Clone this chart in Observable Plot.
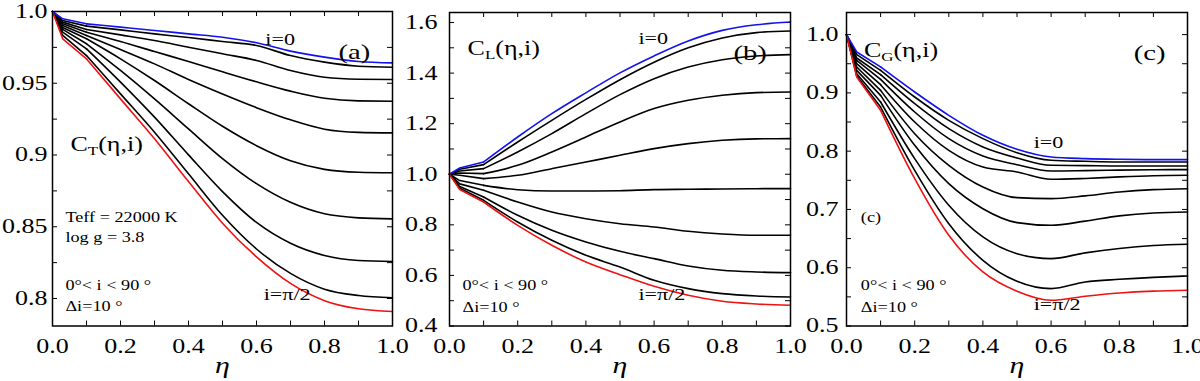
<!DOCTYPE html>
<html><head><meta charset="utf-8">
<script src="https://cdn.jsdelivr.net/npm/d3@7"></script>
<script src="https://cdn.jsdelivr.net/npm/@observablehq/plot@0.6"></script>
<style>
html,body{margin:0;padding:0;background:#fff;}
#fig{position:relative;width:1200px;height:381px;overflow:hidden;background:#fff;}
#fig svg{position:absolute;top:0;overflow:visible;background:transparent;}
#fig svg text{font-family:"Liberation Serif",serif;}
</style></head><body><div id="fig"></div>
<script>
// ---- data ----
const eta = [0, 0.03, 0.1, 0.2, 0.3, 0.4, 0.5, 0.6, 0.7, 0.8, 0.9, 1.0];
const inclinations = [0, 10, 20, 30, 40, 50, 60, 70, 80, 90];

const CT = [
  [1, 0.9949, 0.9914, 0.9891, 0.9868, 0.9844, 0.9821, 0.9782, 0.9724, 0.9682, 0.9652, 0.9642],
  [1, 0.9937, 0.9898, 0.9872, 0.9844, 0.9819, 0.9791, 0.9763, 0.9693, 0.9647, 0.9619, 0.9612],
  [1, 0.9926, 0.9875, 0.9837, 0.9798, 0.9751, 0.9705, 0.9659, 0.9589, 0.9542, 0.9528, 0.9526],
  [1, 0.9914, 0.9856, 0.9791, 0.9721, 0.9652, 0.9580, 0.9510, 0.9445, 0.9395, 0.9377, 0.9375],
  [1, 0.9902, 0.9833, 0.9735, 0.9635, 0.9526, 0.9425, 0.9330, 0.9245, 0.9180, 0.9158, 0.9154],
  [1, 0.9889, 0.9810, 0.9670, 0.9519, 0.9357, 0.9200, 0.9065, 0.8960, 0.8900, 0.8880, 0.8876],
  [1, 0.9875, 0.9775, 0.9589, 0.9391, 0.9182, 0.8975, 0.8800, 0.8670, 0.8590, 0.8562, 0.8555],
  [1, 0.9856, 0.9740, 0.9508, 0.9264, 0.9001, 0.8745, 0.8530, 0.8385, 0.8300, 0.8265, 0.8258],
  [1, 0.9833, 0.9693, 0.9426, 0.9159, 0.8869, 0.8580, 0.8345, 0.8175, 0.8065, 0.8021, 0.8005],
  [1, 0.9810, 0.9670, 0.9391, 0.9113, 0.8815, 0.8525, 0.8290, 0.8105, 0.7985, 0.7928, 0.7909]
];
const CL = [
  [1, 1.0248, 1.0485, 1.1474, 1.2396, 1.3220, 1.4010, 1.4680, 1.5270, 1.5690, 1.5910, 1.6020],
  [1, 1.0195, 1.0380, 1.1276, 1.2133, 1.2960, 1.3740, 1.4430, 1.5000, 1.5390, 1.5600, 1.5666],
  [1, 1.0129, 1.0222, 1.0881, 1.1606, 1.2396, 1.3148, 1.3780, 1.4241, 1.4531, 1.4676, 1.4730],
  [1, 1.0050, 1.0024, 1.0353, 1.0881, 1.1474, 1.2068, 1.2596, 1.2925, 1.3123, 1.3228, 1.3254],
  [1, 0.9958, 0.9826, 0.9958, 1.0221, 1.0485, 1.0750, 1.1013, 1.1210, 1.1343, 1.1400, 1.1409],
  [1, 0.9750, 0.9562, 0.9390, 0.9338, 0.9338, 0.9350, 0.9392, 0.9405, 0.9418, 0.9430, 0.9432],
  [1, 0.9620, 0.9366, 0.8904, 0.8508, 0.8244, 0.8046, 0.7916, 0.7745, 0.7639, 0.7586, 0.7586],
  [1, 0.9520, 0.9101, 0.8376, 0.7783, 0.7321, 0.6952, 0.6664, 0.6374, 0.6203, 0.6137, 0.6110],
  [1, 0.9450, 0.8969, 0.8112, 0.7387, 0.6794, 0.6333, 0.5807, 0.5477, 0.5280, 0.5187, 0.5148],
  [1, 0.9400, 0.8904, 0.7980, 0.7190, 0.6531, 0.6031, 0.5570, 0.5214, 0.4977, 0.4871, 0.4818]
];
const CG = [
  [1, 0.9702, 0.9445, 0.9015, 0.8615, 0.8272, 0.8032, 0.7900, 0.7872, 0.7860, 0.7855, 0.7855],
  [1, 0.9656, 0.9387, 0.8929, 0.8529, 0.8215, 0.7974, 0.7843, 0.7826, 0.7815, 0.7815, 0.7815],
  [1, 0.9599, 0.9313, 0.8815, 0.8386, 0.8072, 0.7883, 0.7757, 0.7752, 0.7746, 0.7746, 0.7746],
  [1, 0.9559, 0.9233, 0.8672, 0.8215, 0.7917, 0.7768, 0.7660, 0.7666, 0.7675, 0.7682, 0.7683],
  [1, 0.9502, 0.9141, 0.8500, 0.8014, 0.7728, 0.7643, 0.7517, 0.7532, 0.7558, 0.7578, 0.7586],
  [1, 0.9444, 0.9044, 0.8300, 0.7757, 0.7385, 0.7202, 0.7185, 0.7232, 0.7300, 0.7340, 0.7356],
  [1, 0.9387, 0.8958, 0.8100, 0.7442, 0.7013, 0.6774, 0.6728, 0.6800, 0.6890, 0.6940, 0.6956],
  [1, 0.9330, 0.8844, 0.7871, 0.7071, 0.6528, 0.6241, 0.6156, 0.6255, 0.6330, 0.6380, 0.6402],
  [1, 0.9290, 0.8758, 0.7671, 0.6756, 0.6127, 0.5767, 0.5641, 0.5755, 0.5801, 0.5835, 0.5858],
  [1, 0.9273, 0.8701, 0.7528, 0.6556, 0.5927, 0.5596, 0.5441, 0.5510, 0.5565, 0.5598, 0.5613]
];

const xTicks = [0, 0.2, 0.4, 0.6, 0.8, 1.0];
const xTickLabels = ["0.0", "0.2", "0.4", "0.6", "0.8", "1.0"];
const xMinor = [0, 0.1, 0.2, 0.3, 0.4, 0.5, 0.6, 0.7, 0.8, 0.9, 1.0];

const yTicksA = [0.8, 0.85, 0.9, 0.95, 1.0];
const yLabelsA = ["0.8", "0.85", "0.9", "0.95", "1.0"];
const yMinorA = [0.8, 0.825, 0.85, 0.875, 0.9, 0.925, 0.95, 0.975, 1.0];
const yTicksB = [0.4, 0.6, 0.8, 1.0, 1.2, 1.4, 1.6];
const yLabelsB = ["0.4", "0.6", "0.8", "1.0", "1.2", "1.4", "1.6"];
const yMinorB = [0.4, 0.5, 0.6, 0.7, 0.8, 0.9, 1.0, 1.1, 1.2, 1.3, 1.4, 1.5, 1.6];
const yTicksC = [0.5, 0.6, 0.7, 0.8, 0.9, 1.0];
const yLabelsC = ["0.5", "0.6", "0.7", "0.8", "0.9", "1.0"];
const yMinorC = [0.5, 0.55, 0.6, 0.65, 0.7, 0.75, 0.8, 0.85, 0.9, 0.95, 1.0];

const notesA = [
  {x: 0.626, y: 0.977, text: "i=0", size: 17},
  {x: 0.841, y: 0.9672, text: "(a)", size: 22},
  {x: 0.053, y: 0.9031, text: "C_T(η,i)", size: 20},
  {x: 0.038, y: 0.853, text: "Teff = 22000 K", size: 14},
  {x: 0.038, y: 0.8395, text: "log g = 3.8", size: 14},
  {x: 0.038, y: 0.8056, text: "0°< i < 90 °", size: 14},
  {x: 0.038, y: 0.7912, text: "Δi=10 °", size: 14},
  {x: 0.621, y: 0.799, text: "i=π/2", size: 17}
];
const notesB = [
  {x: 0.053, y: 1.4704, text: "C_L(η,i)", size: 20},
  {x: 0.554, y: 1.514, text: "i=0", size: 17},
  {x: 0.833, y: 1.4507, text: "(b)", size: 22},
  {x: 0.038, y: 0.5412, text: "0°< i < 90 °", size: 14},
  {x: 0.038, y: 0.4542, text: "Δi=10 °", size: 14},
  {x: 0.554, y: 0.5016, text: "i=π/2", size: 17}
];
const notesC = [
  {x: 0.051, y: 0.961, text: "C_G(η,i)", size: 20},
  {x: 0.8425, y: 0.9559, text: "(c)", size: 22},
  {x: 0.549, y: 0.805, text: "i=0", size: 17},
  {x: 0.042, y: 0.678, text: "(c)", size: 14},
  {x: 0.042, y: 0.5613, text: "0°< i < 90 °", size: 14},
  {x: 0.042, y: 0.5235, text: "Δi=10 °", size: 14},
  {x: 0.549, y: 0.527, text: "i=π/2", size: 17}
];

// ---- drawing ----
const H = 381, BOTTOM = 325.5;
const FONT = "Liberation Serif, serif";
const fig = document.getElementById("fig");

function curveMarks(rows, stroke) {
  // straight segments near the origin (kinked in the reference), smooth beyond
  const head = rows.filter(d => d.eta <= 0.1);
  const tail = rows.filter(d => d.eta >= 0.1);
  return [
    Plot.line(head, {x: "eta", y: "v", z: "inc", stroke, strokeWidth: 1.6, curve: "linear"}),
    Plot.line(tail, {x: "eta", y: "v", z: "inc", stroke, strokeWidth: 1.6, curve: "monotone-x"})
  ];
}

function panel(o) {
  const rows = [];
  o.series.forEach((vals, k) => vals.forEach((v, j) => rows.push({eta: eta[j], v, inc: inclinations[k]})));
  const black = rows.filter(d => d.inc !== 0 && d.inc !== 90);
  const blue = rows.filter(d => d.inc === 0);
  const red = rows.filter(d => d.inc === 90);
  const mb = H - BOTTOM;
  const ph = H - o.marginTop - mb;
  const pw = o.width - o.marginLeft - o.marginRight;
  const tl = 5;
  const svg = Plot.plot({
    width: o.width, height: H,
    marginLeft: o.marginLeft, marginRight: o.marginRight, marginTop: o.marginTop, marginBottom: mb,
    style: {fontFamily: FONT, fontSize: "20px", color: "#000", background: "transparent", overflow: "visible"},
    x: {domain: [0, 1], axis: null},
    y: {domain: o.yDomain, axis: null},
    marks: [
      Plot.axisX(xTicks, {anchor: "bottom", tickSize: 0, tickPadding: 13, fontSize: 20, tickFormat: d => xTickLabels[xTicks.indexOf(d)]}),
      Plot.axisY(o.yTicks, {anchor: "left", tickSize: 0, tickPadding: o.padY, fontSize: 20, tickFormat: d => o.yLabels[o.yTicks.indexOf(d)]}),
      Plot.tickX(xMinor, {x: d => d, insetTop: ph - tl, stroke: "#000", strokeWidth: 1}),
      Plot.tickX(xMinor, {x: d => d, insetBottom: ph - tl, stroke: "#000", strokeWidth: 1}),
      Plot.tickY(o.yMinor, {y: d => d, insetRight: pw - tl, stroke: "#000", strokeWidth: 1}),
      Plot.tickY(o.yMinor, {y: d => d, insetLeft: pw - tl, stroke: "#000", strokeWidth: 1}),
      ...curveMarks(black, "#000"),
      ...curveMarks(blue, "#1212ee"),
      ...curveMarks(red, "#ee1212"),
      Plot.frame({stroke: "#000", strokeWidth: 1.5}),
      Plot.text(o.notes, {x: "x", y: "y", text: "text", fontSize: "size", textAnchor: "start", lineAnchor: "bottom", fill: "#000"}),
      Plot.text(["η"], {frameAnchor: "bottom", dy: 47, lineAnchor: "bottom", fontStyle: "italic", fontSize: 23, fill: "#000"})
    ]
  });
  svg.style.left = o.left + "px";
  svg.setAttribute("font-family", FONT);
  fig.appendChild(svg);
  const NS = "http://www.w3.org/2000/svg";
  for (const t of svg.querySelectorAll("text")) {
    t.style.fontFamily = FONT;
    const s = t.textContent;
    if (s.includes("_")) {
      const [a, rest] = s.split("_");
      const sub = rest[0], tail = rest.slice(1);
      t.textContent = "";
      const t1 = document.createElementNS(NS, "tspan"); t1.textContent = a;
      const t2 = document.createElementNS(NS, "tspan"); t2.textContent = sub;
      t2.setAttribute("font-size", "13px"); t2.setAttribute("dy", "4");
      const t3 = document.createElementNS(NS, "tspan"); t3.textContent = tail; t3.setAttribute("dy", "-4");
      t.append(t1, t2, t3);
    }
  }
  // horizontal stretch of the glyphs, as in the reference
  for (const t of svg.querySelectorAll("text")) {
    const L = t.getComputedTextLength();
    if (L > 0) {
      t.setAttribute("textLength", (L * 1.3).toFixed(2));
      t.setAttribute("lengthAdjust", "spacingAndGlyphs");
    }
  }
}

panel({series: CT, left: 0, width: 400, marginLeft: 52, marginRight: 8, marginTop: 11,
  yDomain: [1 - (BOTTOM - 11) / 1435, 1.0], yTicks: yTicksA, yLabels: yLabelsA, yMinor: yMinorA, padY: 5, notes: notesA});
panel({series: CL, left: 400, width: 400, marginLeft: 49, marginRight: 10, marginTop: 12,
  yDomain: [0.4, 0.4 + (BOTTOM - 12) / 252.9], yTicks: yTicksB, yLabels: yLabelsB, yMinor: yMinorB, padY: 12, notes: notesB});
panel({series: CG, left: 800, width: 400, marginLeft: 46, marginRight: 13, marginTop: 12,
  yDomain: [0.5, 0.5 + (BOTTOM - 12) / 582.8], yTicks: yTicksC, yLabels: yLabelsC, yMinor: yMinorC, padY: 8, notes: notesC});
</script></body></html>
